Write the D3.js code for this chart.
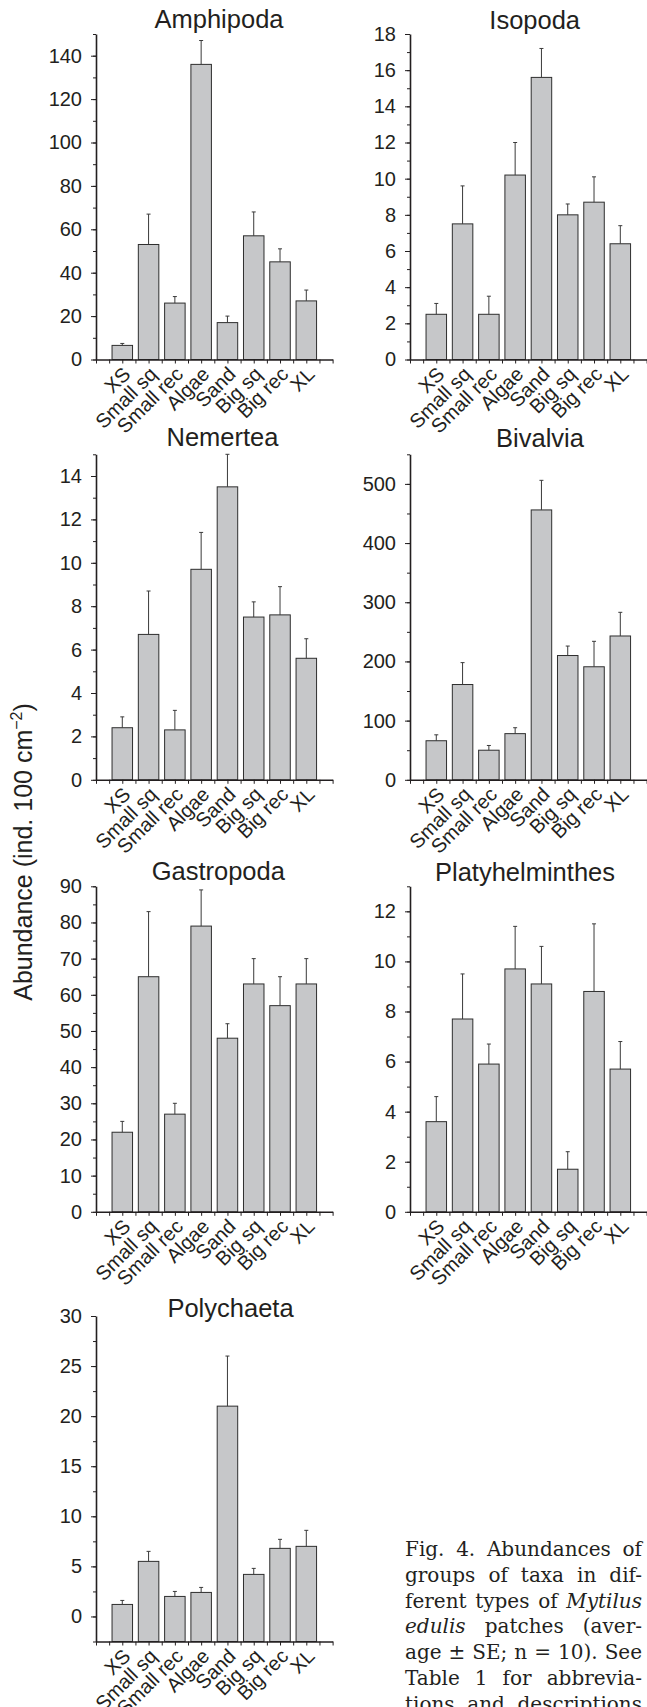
<!DOCTYPE html>
<html>
<head>
<meta charset="utf-8">
<script src="https://cdn.jsdelivr.net/npm/d3@7"></script>
<style>
  html, body { margin: 0; padding: 0; background: #fff; }
  svg { display: block; }
  .tick text { font-family: "Liberation Sans", Arial, sans-serif; font-size: 20px; fill: #231f20; }
</style>
</head>
<body>
<div id="chart"></div>
<script>
const categories = ["XS", "Small sq", "Small rec", "Algae", "Sand", "Big sq", "Big rec", "XL"];

// mean and SE (upper error bar only)
const amphipodaMean = [6.5, 53, 26, 136, 17, 57, 45, 27];
const amphipodaSE = [0.9, 14, 3, 11, 3, 11, 6, 5];
const isopodaMean = [2.5, 7.5, 2.5, 10.2, 15.6, 8.0, 8.7, 6.4];
const isopodaSE = [0.6, 2.1, 1.0, 1.8, 1.6, 0.6, 1.4, 1.0];
const nemerteaMean = [2.4, 6.7, 2.3, 9.7, 13.5, 7.5, 7.6, 5.6];
const nemerteaSE = [0.5, 2.0, 0.9, 1.7, 1.5, 0.7, 1.3, 0.9];
const bivalviaMean = [66, 161, 50, 78, 456, 210, 191, 243];
const bivalviaSE = [10, 37, 8, 10, 50, 16, 43, 40];
const gastropodaMean = [22, 65, 27, 79, 48, 63, 57, 63];
const gastropodaSE = [3, 18, 3, 10, 4, 7, 8, 7];
const platyMean = [3.6, 7.7, 5.9, 9.7, 9.1, 1.7, 8.8, 5.7];
const platySE = [1.0, 1.8, 0.8, 1.7, 1.5, 0.7, 2.7, 1.1];
const polychaetaMean = [1.2, 5.5, 2.0, 2.4, 21, 4.2, 6.8, 7.0];
const polychaetaSE = [0.4, 1.0, 0.5, 0.5, 5, 0.6, 0.9, 1.6];

// y ranges: [min, max, major step, minor step]
const amphipodaAxis = [0, 150, 20, 10];
const isopodaAxis = [0, 18, 2, 1];
const nemerteaAxis = [0, 15, 2, 1];
const bivalviaAxis = [0, 550, 100, 50];
const gastropodaAxis = [0, 90, 10, 5];
const platyAxis = [0, 13, 2, 1];
const polychaetaAxis = [-2.5, 30, 5, 2.5];

const yLabel = "Abundance (ind. 100 cm";
const captionLines = [
  [["Fig.", 0], ["4.", 0], ["Abundances", 0], ["of", 0]],
  [["groups", 0], ["of", 0], ["taxa", 0], ["in", 0], ["dif-", 0]],
  [["ferent", 0], ["types", 0], ["of", 0], ["Mytilus", 1]],
  [["edulis", 1], ["patches", 0], ["(aver-", 0]],
  [["age", 0], ["±", 0], ["SE;", 0], ["n", 0], ["=", 0], ["10).", 0], ["See", 0]],
  [["Table", 0], ["1", 0], ["for", 0], ["abbrevia-", 0]],
  [["tions", 0], ["and", 0], ["descriptions", 0]],
];

const W = 647, H = 1707;
const INK = "#231f20";
const COLS = [96, 410];
const PLOT_W = 236.6;
const PLOT_H = 325.5;

// layout: panel, column, top of y axis, title baseline offset, title centre offset
const panels = [
  { name: "Amphipoda", mean: amphipodaMean, se: amphipodaSE, axis: amphipodaAxis, col: 0, top: 34, tdy: -5.7, tdx: 123 },
  { name: "Isopoda", mean: isopodaMean, se: isopodaSE, axis: isopodaAxis, col: 1, top: 34, tdy: -4.7, tdx: 124.7 },
  { name: "Nemertea", mean: nemerteaMean, se: nemerteaSE, axis: nemerteaAxis, col: 0, top: 454.3, tdy: -8.4, tdx: 126.5 },
  { name: "Bivalvia", mean: bivalviaMean, se: bivalviaSE, axis: bivalviaAxis, col: 1, top: 454.3, tdy: -7.6, tdx: 130 },
  { name: "Gastropoda", mean: gastropodaMean, se: gastropodaSE, axis: gastropodaAxis, col: 0, top: 886.3, tdy: -6.3, tdx: 122.3 },
  { name: "Platyhelminthes", mean: platyMean, se: platySE, axis: platyAxis, col: 1, top: 886.3, tdy: -5.6, tdx: 115 },
  { name: "Polychaeta", mean: polychaetaMean, se: polychaetaSE, axis: polychaetaAxis, col: 0, top: 1316, tdy: 0.7, tdx: 134.5 },
];

const svg = d3.select("#chart").append("svg")
  .attr("width", W)
  .attr("height", H)
  .attr("viewBox", `0 0 ${W} ${H}`);

function drawPanel(p) {
  const x0 = COLS[p.col];
  const [ymin, ymax, major, minor] = p.axis;
  const g = svg.append("g").attr("transform", `translate(${x0},${p.top})`);

  const x = d3.scalePoint().domain(categories).range([0, PLOT_W]).padding(1);
  const u = d3.scaleLinear().domain([0, 9]).range([0, PLOT_W]);
  const y = d3.scaleLinear().domain([ymin, ymax]).range([PLOT_H, 0]);
  const bw = x.step() * 0.78;

  // bars
  g.selectAll("rect.bar")
    .data(p.mean)
    .join("rect")
    .attr("class", "bar")
    .attr("x", (d, i) => x(categories[i]) - bw / 2)
    .attr("width", bw)
    .attr("y", (d) => y(d))
    .attr("height", (d) => y(ymin) - y(d))
    .attr("fill", "#c6c7c9")
    .attr("stroke", "#2e2e2e")
    .attr("stroke-width", 1);

  // upper error bars
  const err = g.append("g").attr("stroke", "#3a3a3a").attr("stroke-width", 1);
  p.mean.forEach((m, i) => {
    const cx = x(categories[i]);
    const top = y(m + p.se[i]);
    err.append("line").attr("x1", cx).attr("x2", cx).attr("y1", y(m)).attr("y2", top);
    err.append("line").attr("x1", cx - 2).attr("x2", cx + 2).attr("y1", top).attr("y2", top);
  });

  // y axis: minor then major ticks
  const minorTicks = d3.range(ymin, ymax + minor / 2, minor);
  const majorTicks = d3.range(Math.ceil(Math.max(0, ymin) / major) * major, ymax + 1e-9, major);
  const yMinor = g.append("g").call(
    d3.axisLeft(y).tickValues(minorTicks).tickSize(3).tickSizeOuter(0).tickFormat("")
  );
  yMinor.select(".domain").remove();
  const yMajor = g.append("g").call(
    d3.axisLeft(y).tickValues(majorTicks).tickSize(5).tickSizeOuter(0).tickPadding(9).tickFormat(d3.format("d"))
  );
  yMajor.select(".domain").attr("stroke", INK).attr("stroke-width", 1.6);
  g.selectAll(".tick line").attr("stroke", INK);

  // x axis: ticks at every half step
  const xa = g.append("g").attr("transform", `translate(0,${PLOT_H})`);
  xa.call(d3.axisBottom(u).tickValues(d3.range(0, 9.01, 0.5)).tickSize(4).tickSizeOuter(0).tickFormat(""));
  xa.select(".domain").attr("stroke", INK).attr("stroke-width", 1.6);
  xa.selectAll(".tick line").attr("stroke", INK);

  const xl = g.append("g").attr("transform", `translate(0,${PLOT_H})`);
  xl.call(d3.axisBottom(x).tickSize(0).tickPadding(0));
  xl.select(".domain").remove();
  xl.selectAll(".tick text")
    .attr("text-anchor", "end")
    .attr("x", 0)
    .attr("y", 0)
    .attr("dy", "0.35em")
    .attr("transform", "translate(4,11) rotate(-45)");

  // title
  svg.append("text")
    .attr("x", x0 + p.tdx)
    .attr("y", p.top + p.tdy)
    .attr("text-anchor", "middle")
    .attr("font-family", "'Liberation Sans', Arial, sans-serif")
    .attr("font-size", 25.5)
    .attr("fill", INK)
    .text(p.name);
}

panels.forEach(drawPanel);

// shared y-axis title
const yt = svg.append("text")
  .attr("transform", "translate(32,852) rotate(-90)")
  .attr("text-anchor", "middle")
  .attr("font-family", "'Liberation Sans', Arial, sans-serif")
  .attr("font-size", 25)
  .attr("fill", INK);
yt.append("tspan").text(yLabel);
yt.append("tspan").attr("font-size", 16).attr("dy", -10).text("−2");
yt.append("tspan").attr("dy", 10).text(")");

// caption, justified word by word
const CAP_X = 405, CAP_W = 237, CAP_Y = 1555.7, CAP_LH = 25.9;
const capFont = "'DejaVu Serif', serif";
const capSize = 20;
const cap = svg.append("g")
  .attr("font-family", capFont)
  .attr("font-size", capSize)
  .attr("fill", INK);

captionLines.forEach((words, li) => {
  const yy = CAP_Y + li * CAP_LH;
  const nodes = words.map(([w, it]) =>
    cap.append("text").attr("y", yy).attr("font-style", it ? "italic" : null).text(w)
  );
  const widths = nodes.map((n) => n.node().getComputedTextLength());
  const total = d3.sum(widths);
  const gap = words.length > 1 ? (CAP_W - total) / (words.length - 1) : 0;
  let cx = CAP_X;
  nodes.forEach((n, i) => {
    n.attr("x", cx);
    cx += widths[i] + gap;
  });
});
</script>
</body>
</html>
